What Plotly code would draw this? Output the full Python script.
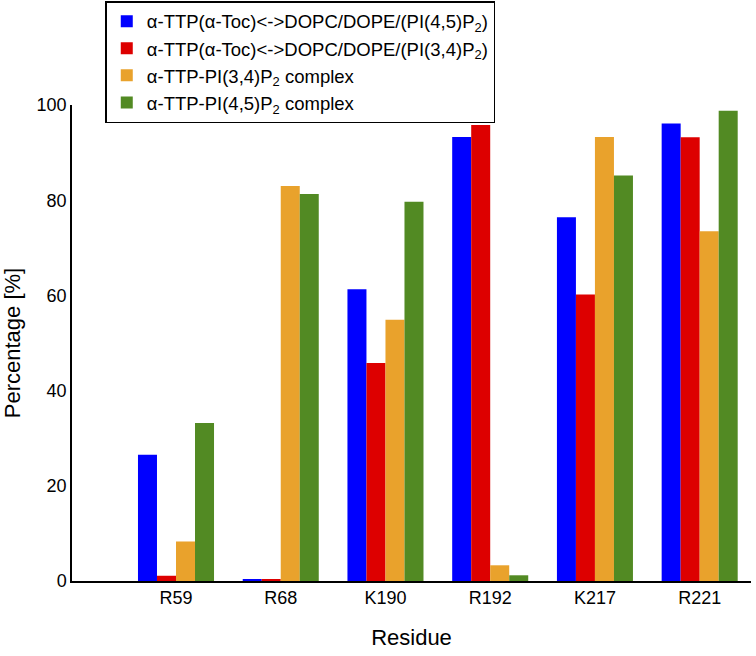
import plotly.graph_objects as go

residues = ["R59", "R68", "K190", "R192", "K217", "R221"]
series_names = [
    "α-TTP(α-Toc)&lt;-&gt;DOPC/DOPE/(PI(4,5)P<sub>2</sub>)",
    "α-TTP(α-Toc)&lt;-&gt;DOPC/DOPE/(PI(3,4)P<sub>2</sub>)",
    "α-TTP-PI(3,4)P<sub>2</sub> complex",
    "α-TTP-PI(4,5)P<sub>2</sub> complex",
]
pi45_membrane = [26.5, 0.3, 61.3, 93.3, 76.4, 96.1]
pi34_membrane = [1.1, 0.3, 45.8, 95.8, 60.2, 93.2]
pi34_complex = [8.3, 83.0, 54.9, 3.3, 93.3, 73.5]
pi45_complex = [33.2, 81.3, 79.7, 1.2, 85.2, 98.8]
colors = ["#0000FF", "#DD0000", "#E9A22C", "#528A23"]

x_idx = list(range(len(residues)))
fig = go.Figure()
for name, vals, col in zip(series_names,
                           [pi45_membrane, pi34_membrane, pi34_complex, pi45_complex],
                           colors):
    fig.add_trace(go.Bar(x=x_idx, y=vals, name=name, marker_color=col,
                         marker_line_width=0))

fig.update_layout(
    width=756, height=656,
    margin=dict(l=72, r=5, t=105, b=75, autoexpand=False),
    plot_bgcolor="white", paper_bgcolor="white",
    barmode="group", bargap=0.274, bargroupgap=0,
    font=dict(family="Liberation Sans, Arial, sans-serif", color="black", size=18),
    showlegend=True,
    legend=dict(x=0.049, y=1.218, xanchor="left", yanchor="top",
                bordercolor="black", borderwidth=1.5, bgcolor="white",
                font=dict(size=18.5), tracegroupgap=0, itemwidth=30),
    xaxis=dict(range=[-0.993, 5.49], tickmode="array", tickvals=x_idx,
               ticktext=residues, showline=True, linecolor="black", linewidth=1.5,
               showgrid=False, zeroline=False, ticks="", automargin=False,
               title=dict(text="Residue", font=dict(size=22), standoff=22)),
    yaxis=dict(range=[0, 100], tickvals=[0, 20, 40, 60, 80, 100],
               showline=True, linecolor="black", linewidth=1.5,
               showgrid=False, zeroline=False, ticks="", automargin=False,
               title=dict(text="Percentage [%]", font=dict(size=22), standoff=12)),
)

fig.write_html("out.html",
               config={"displayModeBar": False},
               post_script="document.body.style.margin='0';document.body.style.overflow='hidden';")
